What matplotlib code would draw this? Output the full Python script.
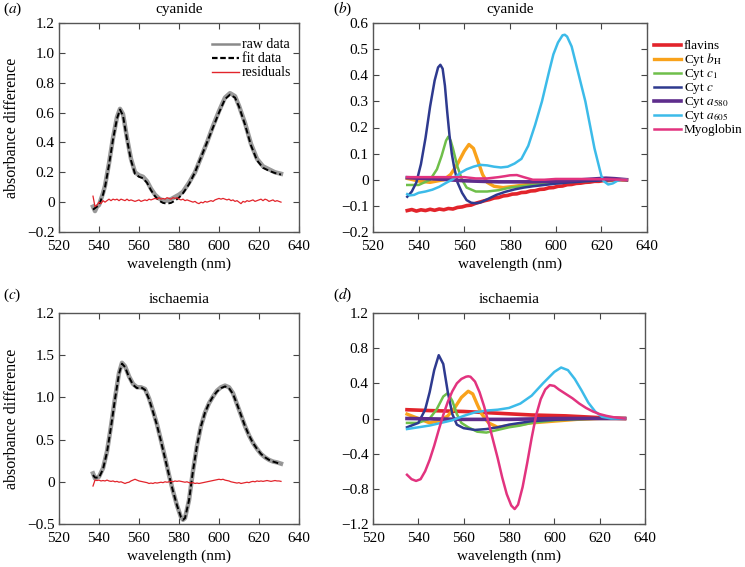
import numpy as np
import matplotlib
matplotlib.use("Agg")
import matplotlib.pyplot as plt
from matplotlib.lines import Line2D

plt.rcParams["font.family"] = ["Liberation Serif", "DejaVu Serif"]
plt.rcParams["mathtext.fontset"] = "stix"
plt.rcParams["axes.linewidth"] = 1.0

# ---------------- data: panel (a) cyanide fit ----------------
a_fit_wl = [537, 538, 540, 542, 543, 545, 547, 549, 550.5, 552, 554, 556, 558, 560, 562, 564,
            566, 568, 570, 572, 574, 576, 578, 580, 582, 585, 588, 591, 594, 597, 600, 603,
            605.5, 608, 610, 613, 616, 619, 622, 625, 628, 631]
a_fit = [-0.05, -0.04, -0.02, 0.05, 0.10, 0.25, 0.42, 0.56, 0.62, 0.58, 0.42, 0.28, 0.19, 0.17,
         0.16, 0.13, 0.08, 0.04, 0.01, -0.005, -0.01, -0.005, 0.01, 0.03, 0.06, 0.12, 0.20,
         0.30, 0.40, 0.50, 0.60, 0.69, 0.72, 0.70, 0.64, 0.52, 0.38, 0.28, 0.23, 0.21, 0.195, 0.185]
a_raw_wl = [537, 538, 539, 540, 542, 543, 545, 547, 549, 550.5, 552, 554, 556, 558, 560, 562,
            564, 566, 568, 570, 572, 574, 576, 578, 580, 582, 585, 588, 591, 594, 597, 600,
            603, 605.5, 608, 610, 613, 616, 619, 622, 625, 628, 631]
a_raw = [-0.03, -0.06, -0.03, -0.02, 0.06, 0.11, 0.26, 0.43, 0.57, 0.625, 0.59, 0.43, 0.29,
         0.20, 0.18, 0.17, 0.14, 0.09, 0.05, 0.025, 0.01, 0.01, 0.02, 0.035, 0.05, 0.07, 0.13,
         0.20, 0.30, 0.40, 0.51, 0.61, 0.70, 0.73, 0.71, 0.645, 0.53, 0.39, 0.29, 0.24, 0.22,
         0.20, 0.19]
a_resid = [0.04, -0.03, -0.02, 0.00, -0.01, 0.01, 0.00, 0.01, 0.02, 0.01, 0.02, 0.015, 0.02,
           0.01, 0.02, 0.015, 0.01, 0.02, 0.01, 0.015, 0.01, 0.005, 0.01, 0.015, 0.005, 0.01,
           0.015, 0.01, 0.02, 0.015, 0.02, 0.025, 0.02, 0.03, 0.02, 0.025, 0.02, 0.03, 0.025,
           0.02, 0.03, 0.025, 0.03, 0.02, 0.015, 0.02, 0.01, 0.015, 0.01, 0.005, 0.0, 0.005,
           -0.005, -0.01, 0.0, -0.005, 0.005, 0.0, 0.005, 0.01, 0.005, 0.015, 0.02, 0.025, 0.02,
           0.025, 0.02, 0.015, 0.02, 0.01, 0.015, 0.005, 0.01, 0.0, -0.01, 0.005, 0.0, 0.01,
           0.005, 0.01, 0.015, 0.005, 0.01, 0.015, 0.02, 0.01, 0.02, 0.015, 0.005, 0.01, 0.015,
           0.005, 0.01, 0.005, 0.0]

# ---------------- data: panel (c) ischaemia fit ----------------
c_fit_wl = [537, 538, 540, 542, 544, 546, 548, 550, 551.5, 553, 555, 557, 559, 561, 563, 565,
            567, 569, 571, 573, 575, 577, 579, 581, 582, 583, 585, 587, 589, 591, 593, 595, 597,
            599, 601, 603, 605, 607, 609, 611, 613, 615, 617, 619, 621, 623, 625, 627, 629, 631]
c_fit = [0.08, 0.05, 0.05, 0.15, 0.35, 0.65, 0.98, 1.28, 1.40, 1.36, 1.24, 1.15, 1.11, 1.12,
         1.09, 0.98, 0.83, 0.67, 0.48, 0.28, 0.08, -0.11, -0.28, -0.42, -0.45, -0.43, -0.22,
         0.13, 0.43, 0.66, 0.82, 0.93, 1.01, 1.07, 1.11, 1.13, 1.11, 1.04, 0.92, 0.79, 0.66,
         0.55, 0.46, 0.39, 0.33, 0.29, 0.26, 0.24, 0.225, 0.21]
c_raw = [0.10, 0.04, 0.06, 0.16, 0.36, 0.66, 0.99, 1.29, 1.41, 1.37, 1.25, 1.16, 1.12, 1.12,
         1.10, 0.99, 0.84, 0.68, 0.49, 0.29, 0.08, -0.11, -0.28, -0.42, -0.45, -0.43, -0.22,
         0.13, 0.43, 0.66, 0.82, 0.93, 1.01, 1.08, 1.12, 1.14, 1.12, 1.05, 0.92, 0.79, 0.66,
         0.55, 0.46, 0.39, 0.33, 0.29, 0.26, 0.24, 0.23, 0.215]
c_resid = [-0.05, 0.02, 0.015, 0.02, 0.01, 0.015, 0.01, 0.02, 0.01, 0.005, 0.01, 0.0, 0.005,
           -0.005, 0.0, -0.01, -0.02, -0.01, -0.005, 0.01, 0.02, 0.03, 0.02, 0.01, 0.005, 0.0,
           -0.005, -0.01, -0.02, -0.015, -0.02, -0.01, -0.015, -0.01, -0.005, -0.01, 0.0,
           -0.005, 0.0, 0.005, 0.0, 0.01, 0.005, 0.01, 0.005, 0.0, -0.005, 0.0, -0.01, -0.015,
           -0.01, -0.02, -0.015, -0.02, -0.015, -0.01, -0.005, 0.0, 0.005, 0.01, 0.015, 0.02,
           0.025, 0.03, 0.025, 0.03, 0.02, 0.015, 0.01, 0.0, -0.005, -0.01, -0.015, -0.01,
           -0.02, -0.015, -0.01, -0.005, -0.01, 0.0, 0.005, 0.0, 0.01, 0.005, 0.01, 0.005, 0.01,
           0.015, 0.01, 0.005, 0.01, 0.015, 0.01, 0.01, 0.005]
resid_wl = list(range(537, 632))

# ---------------- data: panel (b) cyanide components ----------------
b_flav_wl = list(range(535, 632, 2))
b_flav = [-0.118, -0.114, -0.12, -0.115, -0.118, -0.113, -0.117, -0.112, -0.115, -0.11, -0.112,
          -0.106, -0.104, -0.099, -0.097, -0.09, -0.085, -0.08, -0.076, -0.07, -0.068, -0.062,
          -0.06, -0.055, -0.054, -0.049, -0.048, -0.043, -0.042, -0.037, -0.036, -0.031, -0.03,
          -0.025, -0.024, -0.019, -0.018, -0.014, -0.013, -0.01, -0.009, -0.006, -0.006, -0.003,
          -0.003, -0.001, 0.0, 0.0, 0.0]
b_bh_wl = [535, 540, 545, 548, 551, 554, 557, 560, 562, 564, 566, 568, 570, 573, 577, 582, 590,
           600, 610, 620, 631]
b_bh = [0.005, -0.005, -0.01, -0.005, 0.0, 0.02, 0.06, 0.11, 0.135, 0.12, 0.07, 0.02, -0.01,
        -0.025, -0.03, -0.025, -0.015, -0.01, -0.005, 0.0, 0.0]
b_c1_wl = [535, 540, 545, 548, 550, 552, 553, 554, 555, 557, 559, 561, 565, 570, 575, 580, 585,
           590, 600, 610, 620, 631]
b_c1 = [-0.02, -0.02, 0.0, 0.04, 0.09, 0.15, 0.165, 0.15, 0.12, 0.05, 0.0, -0.03, -0.045,
        -0.045, -0.04, -0.03, -0.025, -0.02, -0.01, -0.005, 0.0, 0.0]
b_c_wl = [535, 537, 539, 541, 543, 545, 547, 548.5, 549.5, 550.5, 551.5, 552.5, 553.5, 554.5,
          555.5, 557, 559, 561, 563, 565, 567, 570, 574, 578, 582, 586, 590, 595, 600, 605, 610,
          615, 620, 625, 631]
b_c = [-0.065, -0.045, -0.01, 0.06, 0.16, 0.28, 0.38, 0.43, 0.44, 0.425, 0.36, 0.26, 0.17, 0.1,
       0.05, -0.01, -0.05, -0.078, -0.088, -0.09, -0.087, -0.075, -0.058, -0.046, -0.037,
       -0.03, -0.025, -0.02, -0.015, -0.011, -0.008, -0.005, -0.003, -0.001, 0.0]
b_a580_wl = [535, 550, 560, 575, 590, 605, 615, 622, 626, 631]
b_a580 = [0.008, 0.002, -0.004, -0.008, -0.008, -0.004, 0.002, 0.006, 0.004, 0.0]
b_a605_wl = [535, 536, 538, 540, 543, 546, 549, 552, 555, 558, 561, 564, 567, 570, 573, 576,
             579, 582, 585, 588, 591, 594, 597, 599, 601, 603, 604, 605, 607, 609, 611, 613,
             615, 617, 619, 620, 621, 623, 625, 627, 629, 631]
b_a605 = [-0.055, -0.06, -0.058, -0.05, -0.045, -0.038, -0.027, -0.012, 0.002, 0.025, 0.04,
          0.05, 0.057, 0.055, 0.05, 0.047, 0.05, 0.062, 0.08, 0.13, 0.21, 0.30, 0.41, 0.48,
          0.525, 0.553, 0.555, 0.548, 0.51, 0.44, 0.37, 0.30, 0.21, 0.12, 0.05, 0.015, -0.005,
          -0.018, -0.014, -0.004, 0.0, 0.0]
b_myo_wl = [535, 545, 555, 560, 565, 570, 575, 578, 580, 583, 586, 590, 595, 600, 610, 620, 631]
b_myo = [0.01, 0.01, 0.01, 0.01, 0.005, 0.005, 0.01, 0.014, 0.017, 0.018, 0.01, 0.0, 0.0,
         0.003, 0.003, 0.002, 0.0]

# ---------------- data: panel (d) ischaemia components ----------------
d_flav_wl = [535, 545, 560, 575, 590, 605, 620, 631]
d_flav = [0.10, 0.09, 0.08, 0.06, 0.04, 0.03, 0.01, 0.0]
d_bh_wl = [535, 540, 545, 550, 553, 556, 559, 562, 564, 566, 568, 571, 575, 580, 590, 600, 610,
           620, 631]
d_bh = [0.05, 0.0, -0.05, -0.02, 0.03, 0.12, 0.24, 0.31, 0.28, 0.16, 0.05, -0.05, -0.1, -0.08,
        -0.05, -0.03, -0.01, 0.0, 0.0]
d_c1_wl = [535, 540, 545, 548, 551, 553, 555, 557, 559, 562, 566, 570, 575, 580, 585, 590, 600,
           610, 620, 631]
d_c1 = [-0.05, -0.05, 0.0, 0.1, 0.25, 0.29, 0.2, 0.05, -0.05, -0.1, -0.15, -0.16, -0.13, -0.1,
        -0.08, -0.05, -0.02, -0.01, 0.0, 0.0]
d_c_wl = [535, 540, 543, 545, 547, 549, 551, 553, 555, 557, 560, 565, 570, 575, 580, 585, 590,
          600, 610, 620, 631]
d_c = [-0.1, -0.05, 0.1, 0.3, 0.55, 0.72, 0.62, 0.3, 0.05, -0.07, -0.11, -0.13, -0.12, -0.1,
       -0.07, -0.05, -0.03, -0.015, -0.005, 0.0, 0.0]
d_a580_wl = [535, 560, 580, 600, 620, 631]
d_a580 = [0.0, -0.01, -0.01, 0.0, 0.0, 0.0]
d_a605_wl = [535, 540, 545, 550, 555, 560, 565, 570, 575, 580, 585, 590, 595, 600, 603, 606,
             609, 612, 615, 618, 621, 625, 631]
d_a605 = [-0.12, -0.1, -0.08, -0.05, -0.02, 0.03, 0.07, 0.09, 0.1, 0.12, 0.17, 0.26, 0.40,
          0.53, 0.58, 0.55, 0.45, 0.32, 0.18, 0.08, 0.02, 0.0, 0.0]
d_myo_wl = [535, 537, 539, 541, 543, 545, 547, 549, 551, 553, 555, 557, 559, 561, 562, 563, 565,
            567, 569, 571, 573, 575, 577, 579, 581, 582.5, 584, 586, 588, 590, 592, 594, 596,
            598, 600, 602, 605, 608, 611, 614, 617, 620, 623, 626, 629, 631]
d_myo = [-0.64, -0.69, -0.71, -0.69, -0.60, -0.47, -0.31, -0.13, 0.04, 0.19, 0.31, 0.40, 0.45,
         0.475, 0.48, 0.475, 0.42, 0.30, 0.14, -0.05, -0.25, -0.45, -0.67, -0.86, -0.99, -1.03,
         -0.98, -0.78, -0.51, -0.22, 0.04, 0.22, 0.33, 0.38, 0.37, 0.33, 0.28, 0.23, 0.17, 0.12,
         0.08, 0.05, 0.03, 0.015, 0.005, 0.0]

comp_names = ["flavins", r"Cyt $b_{\mathrm{H}}$", r"Cyt $c_1$", r"Cyt $c$",
              r"Cyt $a_{580}$", r"Cyt $a_{605}$", "Myoglobin"]
comp_colors = ["#e2242b", "#f9a21b", "#6fbf4a", "#2e3a8f", "#5e2d8c", "#3cbbe9", "#e2337f"]
comp_widths = [2.6, 2.4, 1.8, 1.8, 2.6, 1.8, 1.8]

b_series = [(b_flav_wl, b_flav), (b_bh_wl, b_bh), (b_c1_wl, b_c1), (b_c_wl, b_c),
            (b_a580_wl, b_a580), (b_a605_wl, b_a605), (b_myo_wl, b_myo)]
d_series = [(d_flav_wl, d_flav), (d_bh_wl, d_bh), (d_c1_wl, d_c1), (d_c_wl, d_c),
            (d_a580_wl, d_a580), (d_a605_wl, d_a605), (d_myo_wl, d_myo)]

xticks = [520, 540, 560, 580, 600, 620, 640]
a_yticks = [-0.2, 0, 0.2, 0.4, 0.6, 0.8, 1.0, 1.2]
a_ylabels = ["\u22120.2", "0", "0.2", "0.4", "0.6", "0.8", "1.0", "1.2"]
b_yticks = [-0.2, -0.1, 0, 0.1, 0.2, 0.3, 0.4, 0.5, 0.6]
b_ylabels = ["\u22120.2", "\u22120.1", "0", "0.1", "0.2", "0.3", "0.4", "0.5", "0.6"]
c_yticks = [-0.5, 0, 0.5, 1.0, 1.5, 2.0]
c_ylabels = ["\u22120.5", "0", "0.5", "1.0", "1.5", "1.2"]
d_yticks = [-1.2, -0.8, -0.4, 0, 0.4, 0.8, 1.2]
d_ylabels = ["\u22121.2", "\u22120.8", "\u22120.4", "0", "0.4", "0.8", "1.2"]

W, H = 745, 567
fig = plt.figure(figsize=(W / 100, H / 100), dpi=100)


def make_ax(l, t, r, b):
    return fig.add_axes([l / W, 1 - b / H, (r - l) / W, (b - t) / H])


ax_a = make_ax(59, 23, 299, 232)
ax_b = make_ax(373, 23, 647, 232)
ax_c = make_ax(59, 313, 299, 524)
ax_d = make_ax(373, 313, 645, 524)

FS = 11


def style(ax, ylim, yticks, ylabels, title, ylabel=False):
    ax.set_xlim(520, 640)
    ax.set_ylim(*ylim)
    ax.set_xticks(xticks)
    ax.set_xticklabels([str(t) for t in xticks], fontsize=FS)
    ax.set_yticks(yticks)
    ax.set_yticklabels(ylabels, fontsize=FS)
    ax.tick_params(direction="in", top=True, right=True, length=4, width=0.8,
                   color="#444444")
    ax.tick_params(axis="x", pad=6)
    ax.tick_params(axis="y", pad=3)
    for s in ax.spines.values():
        s.set_color("#555555")
    ax.set_title(title, fontsize=FS, pad=7)
    ax.set_xlabel("wavelength (nm)", fontsize=FS, labelpad=3)
    if ylabel:
        ax.set_ylabel("absorbance difference", fontsize=11.5, labelpad=5)


def fig_legend(x0, y0, dy, items, fs=10):
    # items: (label, color, lw, linestyle); drawn in figure pixels
    for i, (lab, col, lw, ls) in enumerate(items):
        y = 1 - (y0 + i * dy) / H
        fig.add_artist(Line2D([x0 / W, (x0 + 27) / W], [y, y], color=col, lw=lw, ls=ls,
                              transform=fig.transFigure))
        fig.text((x0 + 30) / W, y - 4 / H, lab, fontsize=fs, ha="left", va="baseline")


# panel (a)
ax_a.plot(a_raw_wl, a_raw, color="#9a9a9a", lw=3.2)
ax_a.plot(a_fit_wl, a_fit, color="black", lw=1.4, ls=(0, (3, 1.5)))
ax_a.plot(resid_wl, a_resid, color="#e2242b", lw=0.9)
style(ax_a, (-0.2, 1.2), a_yticks, a_ylabels, "cyanide", ylabel=True)
fig_legend(212, 44, 14.2, [("raw data", "#8a8a8a", 1.8, "-"),
                           ("fit data", "black", 1.6, (0, (2.5, 1.2))),
                           ("residuals", "#e2242b", 1.0, "-")])

# panel (b)
for (wl, vals), col, lw in zip(b_series, comp_colors, comp_widths):
    ax_b.plot(wl, vals, color=col, lw=lw)
style(ax_b, (-0.2, 0.6), b_yticks, b_ylabels, "cyanide")
fig_legend(654, 45, 14.0, [(n, c, w, "-") for n, c, w in zip(comp_names, comp_colors, comp_widths)],
           fs=9.5)

# panel (c)
ax_c.plot(c_fit_wl, c_raw, color="#9a9a9a", lw=3.2)
ax_c.plot(c_fit_wl, c_fit, color="black", lw=1.4, ls=(0, (3, 1.5)))
ax_c.plot(resid_wl, c_resid, color="#e2242b", lw=0.9)
style(ax_c, (-0.5, 2.0), c_yticks, c_ylabels, "ischaemia", ylabel=True)

# panel (d)
for (wl, vals), col, lw in zip(d_series, comp_colors, comp_widths):
    ax_d.plot(wl, vals, color=col, lw=lw)
style(ax_d, (-1.2, 1.2), d_yticks, d_ylabels, "ischaemia")

# panel tags
for tag, x, y in [("a", 3, 9), ("b", 333, 9), ("c", 3, 295), ("d", 333, 295)]:
    fig.text(x / W, 1 - y / H, "($%s$)" % tag, fontsize=FS, va="center", ha="left")

fig.savefig("out.png", dpi=100)
